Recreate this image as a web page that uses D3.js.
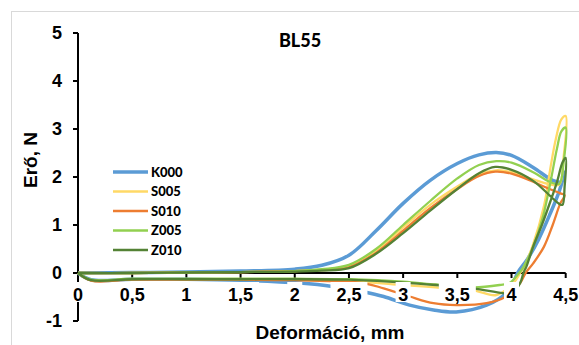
<!DOCTYPE html>
<html>
<head>
<meta charset="utf-8">
<script src="https://cdn.jsdelivr.net/npm/d3@7"></script>
<style>
  body { margin: 0; background: #fff; }
  svg { display: block; }
</style>
</head>
<body>
<script>
// series names and colours
var seriesNames = ["K000", "S005", "S010", "Z005", "Z010"];
var seriesColors = ["#5b9bd5", "#ffd966", "#ed7d31", "#92d050", "#548235"];

// each curve: loading branch out to 4,5 mm, then unloading back to 0
var k000 = [[0,0],[0.5,0.01],[1,0.02],[1.5,0.04],[2,0.08],[2.25,0.16],[2.5,0.37],[2.75,0.88],[3,1.45],[3.25,1.93],[3.5,2.28],[3.7,2.46],[3.86,2.51],[4,2.45],[4.2,2.2],[4.38,1.93],[4.46,1.9],[4.49,2.1],
  [4.44,1.7],[4.35,1.2],[4.25,0.7],[4.15,0.3],[4.06,0.02],[4.02,-0.18],[3.95,-0.42],[3.77,-0.67],[3.49,-0.81],[3.28,-0.77],[3.06,-0.67],[2.82,-0.49],[2.63,-0.39],[2.35,-0.28],[2.05,-0.21],[1.5,-0.15],[1,-0.13],[0.5,-0.13],[0.12,-0.14],[0,0]];
var s005 = [[0,0],[0.5,0],[1,0.01],[1.5,0.02],[2,0.04],[2.25,0.07],[2.5,0.15],[2.75,0.46],[3,0.95],[3.25,1.42],[3.5,1.8],[3.7,2.06],[3.86,2.14],[4,2.1],[4.2,1.95],[4.35,1.85],[4.44,1.84],[4.48,2.4],[4.5,3.27],
  [4.46,3.2],[4.41,2.8],[4.36,2.2],[4.3,1.4],[4.2,0.6],[4.12,0.15],[4.08,0],[4.02,-0.2],[3.86,-0.46],[3.65,-0.36],[3.3,-0.3],[3,-0.25],[2.5,-0.17],[2,-0.14],[1.5,-0.13],[1,-0.13],[0.5,-0.13],[0.12,-0.15],[0,0]];
var s010 = [[0,0],[0.5,0],[1,0.01],[1.5,0.02],[2,0.04],[2.25,0.06],[2.5,0.12],[2.75,0.42],[3,0.88],[3.25,1.35],[3.5,1.75],[3.7,2.02],[3.85,2.11],[4,2.07],[4.2,1.9],[4.35,1.75],[4.45,1.66],[4.49,1.62],
  [4.45,1.45],[4.38,1.0],[4.3,0.55],[4.2,0.2],[4.13,0],[4.08,-0.21],[3.95,-0.49],[3.77,-0.63],[3.49,-0.67],[3.28,-0.63],[3.06,-0.49],[2.82,-0.32],[2.63,-0.21],[2,-0.15],[1.5,-0.14],[1,-0.14],[0.5,-0.14],[0.12,-0.16],[0,0]];
var z005 = [[0,0],[0.5,0],[1,0.01],[1.5,0.02],[2,0.04],[2.25,0.08],[2.5,0.17],[2.75,0.5],[3,1.0],[3.25,1.5],[3.5,1.97],[3.7,2.25],[3.86,2.33],[4,2.3],[4.2,2.1],[4.35,1.9],[4.44,1.86],[4.48,2.3],[4.5,3.03],
  [4.46,2.95],[4.42,2.6],[4.36,1.9],[4.29,1.17],[4.2,0.55],[4.11,0.12],[4.07,0],[3.98,-0.21],[3.89,-0.25],[3.65,-0.3],[3.3,-0.24],[3,-0.18],[2.5,-0.13],[2,-0.12],[1.5,-0.12],[1,-0.12],[0.5,-0.12],[0.12,-0.14],[0,0]];
var z010 = [[0,0],[0.5,0],[1,0.01],[1.5,0.02],[2,0.03],[2.25,0.05],[2.5,0.1],[2.75,0.4],[3,0.83],[3.25,1.3],[3.5,1.75],[3.7,2.08],[3.85,2.21],[4,2.15],[4.2,1.92],[4.35,1.62],[4.44,1.44],[4.47,1.42],[4.49,1.8],[4.5,2.4],
  [4.47,2.3],[4.42,1.9],[4.36,1.5],[4.28,1.0],[4.2,0.55],[4.14,0.15],[4.11,0],[4.08,-0.21],[4.01,-0.42],[3.92,-0.42],[3.65,-0.32],[3.3,-0.25],[3,-0.2],[2.5,-0.14],[2,-0.13],[1.5,-0.13],[1,-0.13],[0.5,-0.13],[0.12,-0.15],[0,0]];
var seriesData = [k000, s005, s010, z005, z010];
var seriesWidths = [3.5, 2.3, 2.3, 2.3, 2.3];

var xTicks = [0, 0.5, 1, 1.5, 2, 2.5, 3, 3.5, 4, 4.5];
var yTicks = [-1, 0, 1, 2, 3, 4, 5];

var width = 579, height = 345;

var svg = d3.select("body").append("svg")
    .attr("width", width)
    .attr("height", height);

// outer frame of the chart area
svg.append("rect")
    .attr("x", 11.5).attr("y", 11.5)
    .attr("width", 600).attr("height", 400)
    .attr("fill", "none")
    .attr("stroke", "#d9d9d9");

var xScale = d3.scaleLinear().domain([0, 4.5]).range([78, 565.7]);
var yScale = d3.scaleLinear().domain([-1, 5]).range([321, 33]);

var line = d3.line()
    .x(function(d) { return xScale(d[0]); })
    .y(function(d) { return yScale(d[1]); })
    .curve(d3.curveCatmullRom.alpha(0.5));

// axes
svg.append("line")
    .attr("x1", xScale(0)).attr("x2", xScale(0))
    .attr("y1", yScale(5)).attr("y2", yScale(-1))
    .attr("stroke", "#000").attr("stroke-width", 2);
svg.selectAll(".ytick").data(yTicks).enter().append("line")
    .attr("x1", xScale(0) - 5).attr("x2", xScale(0))
    .attr("y1", function(d) { return yScale(d); })
    .attr("y2", function(d) { return yScale(d); })
    .attr("stroke", "#000").attr("stroke-width", 2);

svg.append("line")
    .attr("x1", xScale(0)).attr("x2", xScale(4.5))
    .attr("y1", yScale(0)).attr("y2", yScale(0))
    .attr("stroke", "#000").attr("stroke-width", 2);
svg.selectAll(".xtick").data(xTicks).enter().append("line")
    .attr("x1", function(d) { return xScale(d); })
    .attr("x2", function(d) { return xScale(d); })
    .attr("y1", yScale(0)).attr("y2", yScale(0) + 5)
    .attr("stroke", "#000").attr("stroke-width", 2);

// curves
seriesData.forEach(function(pts, i) {
  svg.append("path")
      .attr("d", line(pts))
      .attr("fill", "none")
      .attr("stroke", seriesColors[i])
      .attr("stroke-width", seriesWidths[i])
      .attr("stroke-linejoin", "round");
});

// x tick labels with white boxes, drawn over the curves
var fmt = function(d) { return String(d).replace(".", ","); };
var xLab = svg.selectAll(".xlab").data(xTicks).enter().append("g");
xLab.append("rect")
    .attr("x", function(d) { return xScale(d) - fmt(d).length * 5.5 - 2; })
    .attr("y", yScale(0) + 9)
    .attr("width", function(d) { return fmt(d).length * 11 + 4; })
    .attr("height", 20)
    .attr("fill", "#fff");
xLab.append("text")
    .attr("x", function(d) { return xScale(d); })
    .attr("y", yScale(0) + 28)
    .attr("text-anchor", "middle")
    .style("font", "bold 18px 'Liberation Sans', Arial, sans-serif")
    .text(fmt);

svg.selectAll(".ylab").data(yTicks).enter().append("text")
    .attr("x", 62)
    .attr("y", function(d) { return yScale(d) + 6; })
    .attr("text-anchor", "end")
    .style("font", "bold 18px 'Liberation Sans', Arial, sans-serif")
    .text(function(d) { return d; });

// titles
svg.append("text")
    .attr("x", 300).attr("y", 47)
    .attr("text-anchor", "middle")
    .style("font", "900 18px Lato, 'Open Sans', sans-serif")
    .text("BL55");

svg.append("text")
    .attr("x", 330).attr("y", 339)
    .attr("text-anchor", "middle")
    .style("font", "bold 19px 'Liberation Sans', Arial, sans-serif")
    .text("Deformáció, mm");

svg.append("text")
    .attr("transform", "translate(37,160) rotate(-90)")
    .attr("text-anchor", "middle")
    .style("font", "bold 19px 'Liberation Sans', Arial, sans-serif")
    .text("Erő, N");

// legend
var legend = svg.selectAll(".leg").data(seriesNames).enter().append("g")
    .attr("transform", function(d, i) { return "translate(113," + (172 + i * 19.5) + ")"; });
legend.append("line")
    .attr("x1", 0).attr("x2", 35)
    .attr("stroke", function(d, i) { return seriesColors[i]; })
    .attr("stroke-width", function(d, i) { return seriesWidths[i]; });
legend.append("text")
    .attr("x", 38).attr("y", 4.5)
    .style("font", "900 13px Lato, 'Open Sans', sans-serif")
    .text(function(d) { return d; });
</script>
</body>
</html>
